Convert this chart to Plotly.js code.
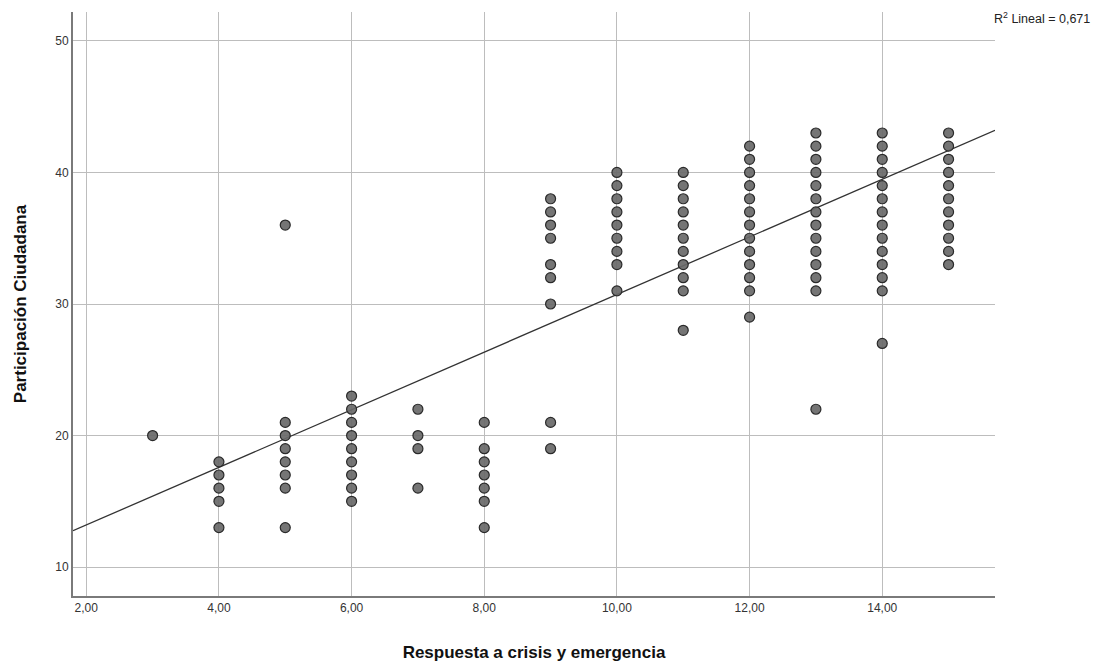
<!DOCTYPE html>
<html>
<head>
<meta charset="utf-8">
<script src="https://cdn.plot.ly/plotly-3.0.1.min.js"></script>
<style>html,body{margin:0;padding:0;background:#fff;}#chart{width:1107px;height:666px;}</style>
</head>
<body>
<div id="chart"></div>
<script>
// Respuesta a crisis y emergencia (x) vs Participación Ciudadana (y)
const y3 = [20];
const x4vals = [18, 17, 16, 15, 13];
const x5vals = [36, 21, 20, 19, 18, 17, 16, 13];
const x6vals = [23, 22, 21, 20, 19, 18, 17, 16, 15];
const x7vals = [22, 20, 19, 16];
const x8vals = [21, 19, 18, 17, 16, 15, 13];
const x9vals = [38, 37, 36, 35, 33, 32, 30, 21, 19];
const x10vals = [40, 39, 38, 37, 36, 35, 34, 33, 31];
const x11vals = [40, 39, 38, 37, 36, 35, 34, 33, 32, 31, 28];
const x12vals = [42, 41, 40, 39, 38, 37, 36, 35, 34, 33, 32, 31, 29];
const x13vals = [43, 42, 41, 40, 39, 38, 37, 36, 35, 34, 33, 32, 31, 22];
const x14vals = [43, 42, 41, 40, 39, 38, 37, 36, 35, 34, 33, 32, 31, 27];
const x15vals = [43, 42, 41, 40, 39, 38, 37, 36, 35, 34, 33];

const columns = [
  [3, y3], [4, x4vals], [5, x5vals], [6, x6vals], [7, x7vals], [8, x8vals],
  [9, x9vals], [10, x10vals], [11, x11vals], [12, x12vals], [13, x13vals],
  [14, x14vals], [15, x15vals]
];

// Fitted line
const fitIntercept = 8.82;
const fitSlope = 2.19;
const r2Label = "R<sup>2</sup> Lineal = 0,671";

const xTickVals = [2, 4, 6, 8, 10, 12, 14];
const xTickText = ["2,00", "4,00", "6,00", "8,00", "10,00", "12,00", "14,00"];
const yTickVals = [10, 20, 30, 40, 50];
const xRange = [1.8, 15.7];
const yRange = [7.8, 52.2];

const px = [], py = [];
columns.forEach(([xv, ys]) => ys.forEach(v => { px.push(xv); py.push(v); }));

const lineX = [xRange[0], xRange[1]];
const lineY = lineX.map(v => fitIntercept + fitSlope * v);

const data = [
  {
    type: 'scatter', mode: 'lines', x: lineX, y: lineY,
    line: { color: '#333333', width: 1.3 }, hoverinfo: 'skip', showlegend: false
  },
  {
    type: 'scatter', mode: 'markers', x: px, y: py,
    marker: { size: 10, color: 'rgba(105,105,105,0.92)', line: { color: '#2a2a2a', width: 1.2 } },
    showlegend: false
  }
];

const fontFam = '"Liberation Sans", Arial, sans-serif';
const layout = {
  width: 1107, height: 666,
  margin: { l: 73, r: 112, t: 12, b: 70 },
  paper_bgcolor: '#ffffff', plot_bgcolor: '#ffffff',
  font: { family: fontFam, color: '#333333', size: 12 },
  xaxis: {
    range: xRange, tickvals: xTickVals, ticktext: xTickText,
    showgrid: true, gridcolor: '#bdbdbd', gridwidth: 1,
    zeroline: false, showline: true, linecolor: '#7a7a7a', linewidth: 2,
    ticks: '', ticklen: 0, tickfont: { size: 12, color: '#333' },
    title: { text: 'Respuesta a crisis y emergencia', font: { size: 17, color: '#111', family: fontFam, weight: 'bold' }, standoff: 32 }
  },
  yaxis: {
    range: yRange, tickvals: yTickVals,
    showgrid: true, gridcolor: '#bdbdbd', gridwidth: 1,
    zeroline: false, showline: true, linecolor: '#7a7a7a', linewidth: 2,
    ticks: '', ticklen: 0, tickfont: { size: 12, color: '#333' },
    title: { text: 'Participación Ciudadana', font: { size: 17, color: '#111', family: fontFam, weight: 'bold' }, standoff: 24 }
  },
  annotations: [{
    xref: 'paper', yref: 'paper', x: 1, y: 1, xanchor: 'left', yanchor: 'middle',
    xshift: -3, yshift: -6, showarrow: false, text: r2Label,
    font: { size: 12.5, color: '#222', family: fontFam }
  }]
};

Plotly.newPlot('chart', data, layout, { displayModeBar: false, staticPlot: true });
</script>
</body>
</html>
